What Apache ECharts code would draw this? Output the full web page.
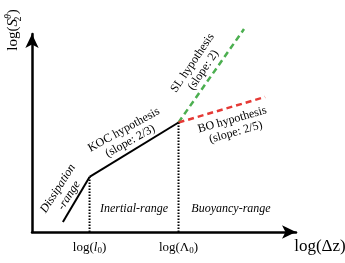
<!DOCTYPE html>
<html>
<head>
<meta charset="utf-8">
<script src="https://cdn.jsdelivr.net/npm/echarts@6/dist/echarts.min.js"></script>
<style>html,body{margin:0;padding:0;background:#fff}#c{width:345px;height:263px}</style>
</head>
<body>
<div id="c"></div>
<script>
// Schematic log-log structure function (values in arbitrary log units)
const dissipationX = [11.7, 21.8];
const dissipationY = [5.1, 27.8];
const kocX = [21.8, 55.5];
const kocY = [27.8, 55.3];
const slX = [55.5, 80.3];
const slY = [55.3, 102.5];
const boX = [55.5, 88.3];
const boY = [55.3, 68.2];
const tickValues = [21.8, 55.5];
const tickLabels = ['{n|log(}{i|l}{sub|0}{n|)}', '{n|log(Λ}{sub|0}{n|)}'];

const pts = (xs, ys) => xs.map((x, i) => [x, ys[i]]);
const serif = 'Liberation Serif';

const chart = echarts.init(document.getElementById('c'), null, {renderer: 'canvas'});
const lbl = (text, x, y, deg, italic) => ({
  type: 'text', x: x, y: y, rotation: deg * Math.PI / 180,
  style: {text: text, fontFamily: serif, fontSize: 12, fontStyle: italic ? 'italic' : 'normal',
    fill: '#000', align: 'center', verticalAlign: 'middle', lineHeight: 13}
});

chart.setOption({
  animation: false,
  grid: {left: 32, right: 49, top: 34, bottom: 31},
  xAxis: {
    type: 'value', min: 0, max: 100,
    axisLine: {show: true, symbol: ['none', 'arrow'], symbolSize: [10, 14], lineStyle: {color: '#000', width: 2.5}},
    axisTick: {show: false},
    splitLine: {show: false},
    axisLabel: {
      show: true, customValues: tickValues, margin: 8,
      formatter: v => tickLabels[tickValues.indexOf(v)] || '',
      rich: {
        n: {fontFamily: serif, fontSize: 13, color: '#000'},
        i: {fontFamily: serif, fontSize: 13, fontStyle: 'italic', color: '#000'},
        sub: {fontFamily: serif, fontSize: 9, color: '#000', verticalAlign: 'bottom', padding: [6, 0, 0, 0]}
      }
    }
  },
  yAxis: {
    type: 'value', min: 0, max: 100,
    axisLine: {show: true, symbol: ['none', 'arrow'], symbolSize: [10, 14], lineStyle: {color: '#000', width: 2.5}},
    axisTick: {show: false},
    splitLine: {show: false},
    axisLabel: {show: false}
  },
  series: [
    {type: 'line', data: pts(dissipationX, dissipationY), symbol: 'none', lineStyle: {color: '#000', width: 2}},
    {type: 'line', data: pts(kocX, kocY), symbol: 'none', lineStyle: {color: '#000', width: 2}},
    {type: 'line', data: pts(slX, slY), symbol: 'none', clip: false, lineStyle: {color: '#4caf50', width: 2.5, type: [6, 4]}},
    {type: 'line', data: pts(boX, boY), symbol: 'none', clip: false, lineStyle: {color: '#e53935', width: 2.5, type: [6, 4]}},
    {type: 'line', data: [[tickValues[0], 0], [tickValues[0], kocY[0]]], symbol: 'none', lineStyle: {color: '#000', width: 2, type: [1.5, 1.5]}},
    {type: 'line', data: [[tickValues[1], 0], [tickValues[1], kocY[1]]], symbol: 'none', lineStyle: {color: '#000', width: 2, type: [1.5, 1.5]}}
  ],
  graphic: [
    lbl('Dissipation\n-range', 63.5, 192, 57.5, true),
    lbl('KOC hypothesis\n(slope: 2/3)', 127, 135.5, 29, false),
    lbl('SL hypothesis\n(slope: 2)', 198, 66.5, 56, false),
    lbl('BO hypothesis\n(slope: 2/5)', 234, 126, 16, false),
    lbl('Inertial-range', 134, 209, 0, true),
    lbl('Buoyancy-range', 231, 209, 0, true),
    {type: 'text', x: 320, y: 247, style: {text: 'log(Δz)', fontFamily: serif, fontSize: 17, fill: '#000', align: 'center', verticalAlign: 'middle'}},
    {type: 'text', x: 13.5, y: 30, rotation: Math.PI / 2,
      style: {text: '{n|log(}{i|S}{sub|2}{sup|θ}{n|)}', fontFamily: serif, align: 'center', verticalAlign: 'middle',
        rich: {
          n: {fontFamily: serif, fontSize: 15, fill: '#000', lineHeight: 20},
          i: {fontFamily: serif, fontSize: 15, fontStyle: 'italic', fill: '#000', lineHeight: 20},
          sub: {fontFamily: serif, fontSize: 10, fill: '#000', lineHeight: 20, verticalAlign: 'bottom', width: 0},
          sup: {fontFamily: serif, fontSize: 10, fontStyle: 'italic', fill: '#000', lineHeight: 20, verticalAlign: 'top'}
        }}}
  ]
});
</script>
</body>
</html>
